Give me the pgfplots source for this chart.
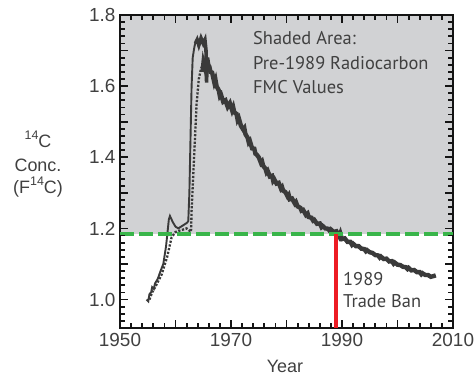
\documentclass[border=0pt]{standalone}
\usepackage{fontspec}
\setmainfont{Liberation Sans}
\newfontfamily\myriad{PT Sans}
\usepackage{pgfplots}
\pgfplotsset{compat=1.18}
\definecolor{shadegray}{RGB}{209,210,212}
\definecolor{dgreen}{RGB}{57,181,74}
\definecolor{dred}{RGB}{237,28,36}
\definecolor{curve}{RGB}{58,58,58}
\definecolor{txt}{RGB}{64,64,64}
\definecolor{tk}{RGB}{20,20,20}
\pgfplotsset{base/.style={
  at={(120bp,51bp)}, anchor=south west,
  scale only axis, width=333bp, height=313bp,
  xmin=1950, xmax=2010, ymin=0.92, ymax=1.8}}
\begin{document}
\begin{tikzpicture}
\useasboundingbox (0bp,0bp) rectangle (476bp,379bp);
\begin{axis}[base, hide axis]
\addplot[draw=none, fill=shadegray] coordinates {(1950,1.183) (2010,1.183) (2010,1.8) (1950,1.8)} -- cycle;
\end{axis}
\begin{axis}[base,
  axis line style={line width=2.5bp, draw=tk},
  tick style={line width=1.8bp, draw=tk},
  major tick length=8bp, minor tick length=5bp,
  tick align=inside,
  xtick={1950,1960,1970,1980,1990,2000,2010},
  xticklabels={1950,,1970,,1990,,2010},
  ytick={1.0,1.1,1.2,1.3,1.4,1.5,1.6,1.7,1.8},
  yticklabels={1.0,,1.2,,1.4,,1.6,,1.8},
  /pgf/number format/assume math mode=true,
  ticklabel style={font=\fontsize{19}{22}\selectfont, text=txt},
  xticklabel style={yshift=-2bp},
  yticklabel style={xshift=-1bp},
  clip=false,
]
% series A (solid, early)
\addplot[curve, line width=1.9bp] coordinates {
(1954.8,1.00) (1955.1,0.995) (1955.3,1.015) (1955.6,1.02) (1955.8,1.035) (1956.1,1.03) (1956.3,1.045) (1956.8,1.058)
(1957.3,1.08) (1957.8,1.10) (1958.3,1.15) (1958.8,1.225) (1959.0,1.235)
(1959.5,1.218) (1960.0,1.205) (1960.5,1.20) (1961.0,1.205) (1961.5,1.21)
(1962.0,1.215) (1962.3,1.22) (1962.5,1.30) (1962.7,1.45) (1962.9,1.60)
(1963.1,1.68) (1963.4,1.71) (1963.7,1.73)};
% series B (dotted, early)
\addplot[curve, line width=2.3bp, dash pattern=on 2.2bp off 1.6bp] coordinates {
(1955.3,1.00) (1955.8,1.02) (1956.5,1.04) (1957.5,1.07) (1958.5,1.12)
(1959.3,1.175) (1960.0,1.19) (1961.0,1.195) (1962.0,1.20) (1962.8,1.19)
(1962.9,1.25) (1963.2,1.35) (1963.5,1.45) (1963.8,1.55) (1964.2,1.62)
(1964.6,1.65) (1965.0,1.66) (1965.4,1.68) (1965.8,1.66) (1966.2,1.64)};
% peak plateau
\addplot[curve, line width=3.6bp] coordinates {
(1963.6,1.72) (1963.9,1.73) (1964.2,1.715) (1964.6,1.735) (1965.0,1.72)
(1965.3,1.73) (1965.5,1.70) (1965.6,1.61) (1965.7,1.68)};
\addplot[curve, line width=3.6bp] coordinates {
(1964.8,1.64) (1965.0,1.67) (1965.3,1.65) (1965.6,1.675) (1965.9,1.655)};
% decline (both series)
\addplot[curve, line width=4.4bp] coordinates {
(1965.7,1.68) (1965.9,1.66) (1966.1,1.655) (1966.3,1.64) (1966.6,1.638)
(1967.0,1.61) (1967.2,1.618) (1967.4,1.600) (1967.8,1.588) (1968.0,1.572) (1968.2,1.576) (1968.6,1.556)
(1969.0,1.560) (1969.4,1.542) (1969.8,1.552) (1970.2,1.532) (1970.4,1.540) (1970.6,1.526)
(1971.0,1.522) (1971.2,1.505) (1971.4,1.510) (1971.8,1.488) (1972.2,1.478) (1972.4,1.482) (1972.6,1.465)
(1973.0,1.455) (1973.2,1.442) (1973.4,1.446) (1973.8,1.425) (1974.2,1.424) (1974.4,1.410) (1974.6,1.408)
(1975.0,1.400) (1975.4,1.384) (1975.6,1.388) (1975.8,1.376) (1976.2,1.368) (1976.4,1.358) (1976.6,1.362)
(1977.0,1.346) (1977.4,1.348) (1977.6,1.334) (1977.8,1.338) (1978.2,1.326) (1978.6,1.328)
(1979.0,1.312) (1979.2,1.316) (1979.4,1.306) (1979.8,1.302) (1980.2,1.290) (1980.4,1.294) (1980.6,1.282)
(1981.0,1.284) (1981.5,1.270) (1981.7,1.274) (1982.0,1.262) (1982.5,1.258) (1982.7,1.250) (1983.0,1.252)
(1983.5,1.238) (1983.8,1.242) (1984.0,1.232) (1984.5,1.230) (1984.8,1.222) (1985.0,1.224) (1985.5,1.213)
(1986.0,1.214) (1986.3,1.204) (1986.5,1.207) (1987.0,1.200) (1987.5,1.199) (1987.8,1.193) (1988.0,1.197)
(1988.5,1.190) (1989.0,1.192) (1989.3,1.184) (1989.5,1.178) (1989.7,1.186) (1990.0,1.170) (1990.5,1.172)
(1991.0,1.162) (1991.5,1.162) (1991.8,1.154) (1992.0,1.157) (1992.5,1.150) (1993.0,1.150)
(1993.5,1.143) (1994.0,1.142) (1994.3,1.136) (1994.5,1.139) (1995.0,1.133) (1995.5,1.131)
(1996.0,1.125) (1996.5,1.124) (1996.8,1.118) (1997.0,1.121) (1997.5,1.114) (1998.0,1.115)
(1998.5,1.107) (1999.0,1.108) (1999.3,1.101) (1999.5,1.104) (2000.0,1.098) (2000.5,1.097)
(2001.0,1.092) (2001.5,1.091) (2001.8,1.086) (2002.0,1.089) (2002.5,1.082) (2003.0,1.083)
(2003.5,1.077) (2004.0,1.077) (2004.3,1.071) (2004.5,1.074) (2005.0,1.069) (2005.5,1.069)
(2006.0,1.064) (2006.5,1.066) (2006.9,1.068)};
% green threshold
\addplot[dgreen, line width=4bp, dash pattern=on 14bp off 5bp] coordinates {(1950,1.183) (2010,1.183)};
% red trade ban line
\addplot[dred, line width=4bp] coordinates {(1989,0.92) (1989,1.183)};
\end{axis}
% tick marks on all four sides, pointing inward (filled bars)
\begin{scope}[shift={(120bp,51bp)}, x=5.55bp, y=355.682bp, fill=tk]
\foreach \t in {10,20,30,40,50} {
  \fill ([xshift=-0.9bp]\t,0) rectangle ([xshift=0.9bp,yshift=8bp]\t,0);
  \fill ([xshift=-0.9bp]\t,0.88) rectangle ([xshift=0.9bp,yshift=-8bp]\t,0.88);}
\foreach \t in {2,4,6,8,12,14,16,18,22,24,26,28,32,34,36,38,42,44,46,48,52,54,56,58} {
  \fill ([xshift=-0.9bp]\t,0) rectangle ([xshift=0.9bp,yshift=5bp]\t,0);
  \fill ([xshift=-0.9bp]\t,0.88) rectangle ([xshift=0.9bp,yshift=-5bp]\t,0.88);}
\foreach \v in {0.08,0.18,0.28,0.38,0.48,0.58,0.68,0.78} {
  \fill ([yshift=-0.9bp]0,\v) rectangle ([xshift=8bp,yshift=0.9bp]0,\v);
  \fill ([yshift=-0.9bp]60,\v) rectangle ([xshift=-8bp,yshift=0.9bp]60,\v);}
\foreach \v in {0.02,0.04,0.06,0.10,0.12,0.14,0.16,0.20,0.22,0.24,0.26,0.30,0.32,0.34,0.36,0.40,0.42,0.44,0.46,0.50,0.52,0.54,0.56,0.60,0.62,0.64,0.66,0.70,0.72,0.74,0.76,0.80,0.82,0.84,0.86} {
  \fill ([yshift=-0.9bp]0,\v) rectangle ([xshift=5bp,yshift=0.9bp]0,\v);
  \fill ([yshift=-0.9bp]60,\v) rectangle ([xshift=-5bp,yshift=0.9bp]60,\v);}
\end{scope}
\begin{scope}[every node/.style={inner sep=0pt, text=txt}]
\node[anchor=base west, font=\myriad\fontsize{18.5}{20}\selectfont] at (253bp,334bp) {Shaded Area:};
\node[anchor=base west, font=\myriad\fontsize{18.5}{20}\selectfont] at (253bp,309bp) {Pre-1989 Radiocarbon};
\node[anchor=base west, font=\myriad\fontsize{18.5}{20}\selectfont] at (253bp,285bp) {FMC Values};
\node[anchor=base west, font=\myriad\fontsize{18.5}{20}\selectfont] at (343bp,93bp) {1989};
\node[anchor=base west, font=\myriad\fontsize{18.5}{20}\selectfont] at (343bp,71bp) {Trade Ban};
\node[anchor=base, font=\fontsize{18}{20}\selectfont] at (285bp,7bp) {Year};
\node[anchor=base, font=\fontsize{18}{20}\selectfont] at (38bp,231bp) {\raisebox{0.45em}{\fontsize{12.5}{14}\selectfont 14}C};
\node[anchor=base, font=\fontsize{18}{20}\selectfont] at (38bp,207bp) {Conc.};
\node[anchor=base, font=\fontsize{18}{20}\selectfont] at (38bp,185bp) {(F\raisebox{0.45em}{\fontsize{12.5}{14}\selectfont 14}C)};
\end{scope}
\end{tikzpicture}
\end{document}
